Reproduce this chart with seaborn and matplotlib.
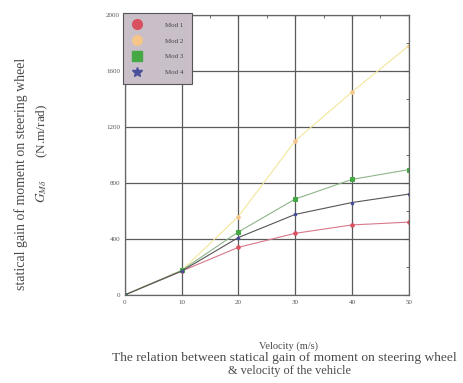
import matplotlib
matplotlib.use("Agg")
import matplotlib.pyplot as plt
import seaborn as sns
import pandas as pd
from matplotlib.ticker import MultipleLocator
from matplotlib.lines import Line2D

sns.set_style("white")
plt.rcParams["font.family"] = ["Liberation Serif", "DejaVu Serif"]
plt.rcParams["mathtext.fontset"] = "stix"

# Vehicle velocity (m/s)
velocity = [0, 10, 20, 30, 40, 50]

# Statical gain of moment on steering wheel (N.m/rad) for each model
mod1 = [0, 170, 340, 440, 500, 520]
mod2 = [0, 175, 560, 1100, 1450, 1780]
mod3 = [0, 175, 450, 685, 825, 895]
mod4 = [0, 170, 410, 575, 660, 720]

series_names = ["Mod 1", "Mod 2", "Mod 3", "Mod 4"]
series_values = [mod1, mod2, mod3, mod4]

x_ticks = [0, 10, 20, 30, 40, 50]
y_ticks = [0, 400, 800, 1200, 1600, 2000]

rows = []
for name, vals in zip(series_names, series_values):
    for v, g in zip(velocity, vals):
        rows.append({"velocity": v, "gain": g, "model": name})
df = pd.DataFrame(rows)

line_colors = {"Mod 1": "#d8778a", "Mod 2": "#f2e79a", "Mod 3": "#8fb58a", "Mod 4": "#555555"}
marker_colors = {"Mod 1": "#d9505e", "Mod 2": "#f6c58a", "Mod 3": "#45a845", "Mod 4": "#4a4f9a"}
markers = {"Mod 1": "o", "Mod 2": "o", "Mod 3": "s", "Mod 4": "*"}

fig = plt.figure(figsize=(4.64, 3.83), dpi=100)
ax = fig.add_axes([0.269, 0.230, 0.612, 0.731])

for name in series_names:
    sub = df[df["model"] == name]
    sns.lineplot(data=sub, x="velocity", y="gain", ax=ax, color=line_colors[name],
                 linewidth=0.8, marker=markers[name], markersize=2.5,
                 markerfacecolor=marker_colors[name], markeredgecolor=marker_colors[name],
                 legend=False)

ax.set_xlim(0, 50)
ax.set_ylim(0, 2000)
ax.set_xticks(x_ticks)
ax.set_yticks(y_ticks)
ax.set_xticklabels([str(t) for t in x_ticks])
ax.set_yticklabels([str(t) for t in y_ticks])
ax.xaxis.set_minor_locator(MultipleLocator(5))
ax.yaxis.set_minor_locator(MultipleLocator(200))
ax.tick_params(axis="both", which="both", direction="in", labelsize=5, colors="#555555",
               top=True, right=True, length=2)
ax.tick_params(axis="both", which="major", length=3)
ax.grid(True, which="major", color="#5a5a5a", linewidth=0.9)
for sp in ax.spines.values():
    sp.set_color("#666666")
    sp.set_linewidth(0.9)

ax.set_xlabel("")
ax.set_ylabel("")

# Legend with marker swatches
handles = [Line2D([], [], linestyle="none", marker=markers[n], markersize=7,
                  markerfacecolor=marker_colors[n], markeredgecolor=marker_colors[n])
           for n in series_names]
leg = ax.legend(handles, series_names, loc="upper left", bbox_to_anchor=(-0.008, 1.008),
                fontsize=5, frameon=True, fancybox=False, borderpad=1.3,
                labelspacing=1.45, handletextpad=3.2, borderaxespad=0.0,
                handlelength=1.6)
leg.get_frame().set_facecolor("#c9bfc9")
leg.get_frame().set_edgecolor("#555555")
leg.get_frame().set_alpha(1.0)
leg.get_frame().set_linewidth(0.8)
for t in leg.get_texts():
    t.set_color("#444444")

# Axis titles and caption
txt = "#4a4a4a"
fig.text(0.045, 0.545, "statical gain of moment on steering wheel", rotation=90,
         ha="center", va="center", fontsize=10, color=txt)
fig.text(0.092, 0.60, r"$G_{M\delta}$       (N.m/rad)", rotation=90,
         ha="center", va="center", fontsize=9.5, color=txt)
fig.text(0.622, 0.097, "Velocity (m/s)", ha="center", va="center", fontsize=7.5, color=txt)
fig.text(0.612, 0.066, "The relation between statical gain of moment on steering wheel",
         ha="center", va="center", fontsize=9.7, color=txt)
fig.text(0.625, 0.031, "& velocity of the vehicle", ha="center", va="center",
         fontsize=8.8, color=txt)

fig.savefig("out.png", dpi=100, facecolor="white")
